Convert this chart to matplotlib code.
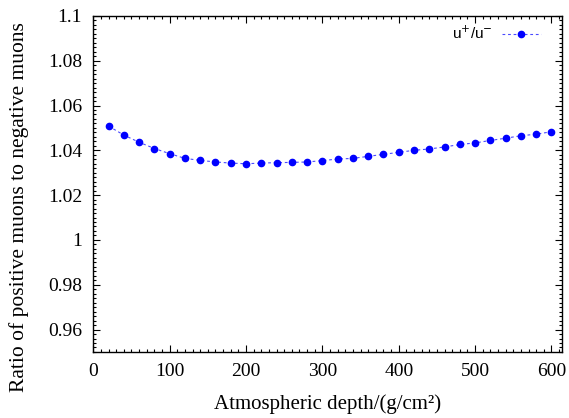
import matplotlib.pyplot as plt
from matplotlib.ticker import MultipleLocator

# atmospheric depth (g/cm^2) and mu+/mu- ratio
depth = [20, 40, 60, 80, 100, 120, 140, 160, 180, 200,
         220, 240, 260, 280, 300, 320, 340, 360, 380, 400,
         420, 440, 460, 480, 500, 520, 540, 560, 580, 600]
ratio = [1.0508, 1.0468, 1.0436, 1.0408, 1.0385, 1.0364, 1.0355, 1.0348, 1.0343, 1.0340,
         1.0343, 1.0345, 1.0346, 1.0348, 1.0354, 1.0361, 1.0364, 1.0373, 1.0382, 1.0391,
         1.0400, 1.0406, 1.0415, 1.0426, 1.0433, 1.0444, 1.0454, 1.0465, 1.0472, 1.0483]

xticks = [0, 100, 200, 300, 400, 500, 600]
yticks = [0.96, 0.98, 1.0, 1.02, 1.04, 1.06, 1.08, 1.1]
ytick_labels = ["0.96", "0.98", "1", "1.02", "1.04", "1.06", "1.08", "1.1"]

serif = ["Liberation Serif", "DejaVu Serif"]

fig = plt.figure(figsize=(5.69, 4.18), dpi=100)
ax = fig.add_axes([0.164, 0.158, 0.824, 0.804])

ax.plot(depth, ratio, color="#4a4aff", lw=0.8, dashes=(2.5, 2.5),
        marker="o", ms=4.5, mfc="#0000ff", mec="#0000ff", label="u$^{+}$/u$^{-}$")

ax.set_xlim(0, 614)
ax.set_ylim(0.95, 1.1)
ax.set_xticks(xticks)
ax.set_xticklabels([str(t) for t in xticks], family=serif, fontsize=14)
ax.set_yticks(yticks)
ax.set_yticklabels(ytick_labels, family=serif, fontsize=14)
ax.xaxis.set_minor_locator(MultipleLocator(10))
ax.yaxis.set_minor_locator(MultipleLocator(0.002))
ax.tick_params(which="both", direction="in", top=True, right=True, width=0.8)
ax.tick_params(which="major", length=5, pad=8)
ax.tick_params(which="minor", length=2.5)
for s in ax.spines.values():
    s.set_linewidth(1.0)

ax.set_xlabel("Atmospheric depth/(g/cm²)", family=serif, fontsize=15)
ax.set_ylabel("Ratio of positive muons to negative muons", family=serif, fontsize=15.5)
ax.xaxis.set_label_coords(0.5, -0.125)
ax.yaxis.set_label_coords(-0.137, 0.43)

ax.legend(loc="upper right", frameon=False, markerfirst=False,
          handlelength=2.6, handletextpad=0.6, borderaxespad=0.2,
          bbox_to_anchor=(0.975, 1.0),
          prop={"family": "Liberation Sans", "size": 11})

fig.savefig("out.png", dpi=100)
